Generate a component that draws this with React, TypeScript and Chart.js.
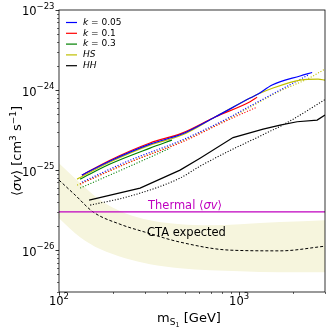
import { useEffect, useRef } from 'react';
import { Chart, registerables } from 'chart.js';
Chart.register(...registerables);

const FONT = "'DejaVu Sans', sans-serif";

// ---- data (mass in GeV, <sigma v> in cm^3 s^-1) ----
const k005Mass = [134, 192, 320, 482, 736, 1151, 1275, 1526, 2182, 2545];
const k005Sigma = [8.66e-26, 1.3e-25, 2.11e-25, 2.82e-25, 4.6e-25, 7.94e-25, 8.91e-25, 1.155e-24, 1.5e-24, 1.655e-24];
const k005DotMass = [134, 248, 482, 891, 1151, 1690, 2417];
const k005DotSigma = [7.08e-26, 1.33e-25, 2.37e-25, 4.6e-25, 6.31e-25, 1.0e-24, 1.54e-24];

const k01Mass = [134, 192, 320, 482, 736, 1151, 1259];
const k01Sigma = [8.66e-26, 1.33e-25, 2.18e-25, 2.9e-25, 4.6e-25, 7.14e-25, 8.11e-25];
const k01DotMass = [131, 248, 482, 891, 1259];
const k01DotSigma = [6.68e-26, 1.26e-25, 2.24e-25, 4.34e-25, 6.13e-25];

const k03Mass = [131, 192, 320, 424];
const k03Sigma = [7.72e-26, 1.19e-25, 1.88e-25, 2.37e-25];
const k03DotMass = [131, 248, 414];
const k03DotSigma = [5.96e-26, 1.12e-25, 1.88e-25];

const hsMass = [126, 192, 320, 482, 736, 1151, 1275, 1545, 2182, 2748, 3000];
const hsSigma = [7.72e-26, 1.26e-25, 2.05e-25, 2.74e-25, 4.6e-25, 7.94e-25, 8.91e-25, 1.06e-24, 1.33e-24, 1.37e-24, 1.33e-24];
const hsDotMass = [126, 248, 482, 891, 1690, 2417, 3000];
const hsDotSigma = [6.49e-26, 1.26e-25, 2.3e-25, 4.47e-25, 9.72e-25, 1.39e-24, 1.83e-24];

const hhMass = [147, 282, 470, 607, 926, 1360, 1690, 2100, 2713, 3000];
const hhSigma = [4.22e-26, 5.96e-26, 1.0e-25, 1.41e-25, 2.55e-25, 3.25e-25, 3.65e-25, 4.02e-25, 4.22e-25, 4.87e-25];
const hhDotMass = [149, 248, 470, 607, 926, 1309, 1871, 3000];
const hhDotSigma = [3.65e-26, 4.73e-26, 7.94e-26, 1.12e-25, 1.83e-25, 2.66e-25, 3.98e-25, 7.6e-25];

const ctaMass = [100, 123, 155, 218, 300, 470, 891, 1690, 3000];
const ctaSigma = [7.5e-26, 4.87e-26, 2.99e-26, 2.11e-26, 1.68e-26, 1.26e-26, 1.0e-26, 9.8e-27, 1.12e-26];

const bandMass = [100, 131, 169, 233, 320, 470, 690, 1013, 1690, 3000];
const bandUpper = [1.22e-25, 6.88e-26, 4.22e-26, 2.9e-26, 2.37e-26, 2.11e-26, 2.05e-26, 2.11e-26, 2.24e-26, 2.37e-26];
const bandLower = [2.51e-26, 1.45e-26, 1.03e-26, 7.94e-27, 6.68e-27, 5.96e-27, 5.62e-27, 5.46e-27, 5.31e-27, 5.31e-27];

const thermalMass = [100, 3000];
const thermalSigma = [3e-26, 3e-26];

const xMin = 100, xMax = 3000, yMin = 3e-27, yMax = 1e-23;
const xMajorTicks = [100, 1000];
const xMajorExp = ['2', '3'];
const yMajorTicks = [1e-26, 1e-25, 1e-24, 1e-23];
const yMajorExp = ['\u221226', '\u221225', '\u221224', '\u221223'];

const legendNames = ['k', 'k', 'k', 'HS', 'HH'];
const legendRest = [' = 0.05', ' = 0.1', ' = 0.3', '', ''];
const legendColors = ['#0000ff', '#ff0000', '#008000', '#bfbf00', '#000000'];

const MAGENTA = '#bf00bf';
const BAND = 'rgb(246,245,221)';

const pts = (xs: number[], ys: number[]) => xs.map((x, i) => ({ x, y: ys[i] }));

function line(xs: number[], ys: number[], color: string, dotted: boolean, extra: any = {}) {
  return {
    data: pts(xs, ys),
    borderColor: color,
    backgroundColor: color,
    borderWidth: dotted ? 1.1 : 1.2,
    borderDash: dotted ? [1.1, 1.7] : [],
    pointRadius: 0,
    fill: false,
    cubicInterpolationMode: 'monotone',
    ...extra,
  };
}

type Run = [string, string, number];
function runsWidth(ctx: CanvasRenderingContext2D, runs: Run[]) {
  let w = 0;
  for (const [t, f] of runs) { ctx.font = f; w += ctx.measureText(t).width; }
  return w;
}
function drawRuns(ctx: CanvasRenderingContext2D, runs: Run[], x: number, y: number) {
  let cx = x;
  for (const [t, f, dy] of runs) { ctx.font = f; ctx.fillText(t, cx, y + dy); cx += ctx.measureText(t).width; }
}

const mplPlugin = {
  id: 'mpl',
  afterDraw(chart: any) {
    const ctx: CanvasRenderingContext2D = chart.ctx;
    const { left, right, top, bottom } = chart.chartArea;
    const xs = chart.scales.x, ys = chart.scales.y;
    ctx.save();
    ctx.strokeStyle = '#000';
    ctx.fillStyle = '#000';
    // ticks
    for (let d = 2; d <= 3; d++) for (let m = 1; m <= 9; m++) {
      const v = m * Math.pow(10, d);
      if (v < xMin || v > xMax) continue;
      const px = Math.round(xs.getPixelForValue(v)) + 0.5;
      const len = m === 1 ? 3.5 : 2;
      ctx.lineWidth = m === 1 ? 0.8 : 0.6;
      ctx.beginPath(); ctx.moveTo(px, bottom); ctx.lineTo(px, bottom + len); ctx.stroke();
    }
    for (let d = -27; d <= -23; d++) for (let m = 1; m <= 9; m++) {
      const v = m * Math.pow(10, d);
      if (v < yMin * 0.999 || v > yMax * 1.001) continue;
      const py = Math.round(ys.getPixelForValue(v)) + 0.5;
      const len = m === 1 ? 3.5 : 2;
      ctx.lineWidth = m === 1 ? 0.8 : 0.6;
      ctx.beginPath(); ctx.moveTo(left, py); ctx.lineTo(left - len, py); ctx.stroke();
    }
    // frame
    ctx.lineWidth = 0.8;
    ctx.strokeRect(left, top, right - left, bottom - top);

    // tick labels
    ctx.textBaseline = 'middle';
    ctx.textAlign = 'left';
    const big = `11.5px ${FONT}`, sup = `8.5px ${FONT}`;
    yMajorTicks.forEach((v, i) => {
      const py = ys.getPixelForValue(v);
      const runs: Run[] = [['10', big, 2.5], [yMajorExp[i], sup, -3]];
      const w = runsWidth(ctx, runs);
      drawRuns(ctx, runs, left - 4.5 - w, py);
    });
    xMajorTicks.forEach((v, i) => {
      const px = xs.getPixelForValue(v);
      const runs: Run[] = [['10', big, 0], [xMajorExp[i], sup, -5]];
      const w = runsWidth(ctx, runs);
      drawRuns(ctx, runs, px - w / 2, bottom + 10);
    });

    // axis titles
    ctx.textBaseline = 'alphabetic';
    const tf = `13px ${FONT}`;
    const xt: Run[] = [['m', tf, 0], ['S', `9px ${FONT}`, 3], ['1', `6.5px ${FONT}`, 5], [' [GeV]', tf, 0]];
    const xtw = runsWidth(ctx, xt);
    drawRuns(ctx, xt, 189 - xtw / 2, 322);

    ctx.save();
    ctx.translate(21, (top + bottom) / 2);
    ctx.rotate(-Math.PI / 2);
    const yt: Run[] = [['\u27e8', tf, 0], ['\u03c3v', `italic ${tf}`, 0], ['\u27e9 [cm', tf, 0], ['3', `9px ${FONT}`, -5], [' s', tf, 0], ['\u22121', `9px ${FONT}`, -5], [']', tf, 0]];
    const ytw = runsWidth(ctx, yt);
    drawRuns(ctx, yt, -ytw / 2, 0);
    ctx.restore();

    // annotations
    const af = `11.5px ${FONT}`;
    ctx.fillStyle = MAGENTA;
    drawRuns(ctx, [['Thermal \u27e8', af, 0], ['\u03c3v', `italic ${af}`, 0], ['\u27e9', af, 0]], xs.getPixelForValue(312), ys.getPixelForValue(3.3e-26));
    ctx.fillStyle = '#000';
    drawRuns(ctx, [['CTA expected', af, 0]], xs.getPixelForValue(308), ys.getPixelForValue(1.5e-26));

    // legend
    const lf = `9px ${FONT}`;
    ctx.textBaseline = 'middle';
    legendNames.forEach((n, i) => {
      const y = top + 12.5 + i * 10.8;
      ctx.strokeStyle = legendColors[i];
      ctx.lineWidth = 1.2;
      ctx.beginPath(); ctx.moveTo(66, y); ctx.lineTo(77, y); ctx.stroke();
      ctx.fillStyle = '#000';
      drawRuns(ctx, [[n, `italic ${lf}`, 0], [legendRest[i], lf, 0]], 83, y);
    });
    ctx.restore();
  },
};

export default function App() {
  const ref = useRef<HTMLCanvasElement>(null);
  useEffect(() => {
    const datasets: any[] = [
      line(k005Mass, k005Sigma, '#0000ff', false),
      line(k01Mass, k01Sigma, '#ff0000', false),
      line(k03Mass, k03Sigma, '#008000', false),
      line(hsMass, hsSigma, '#bfbf00', false),
      line(hhMass, hhSigma, '#000000', false, { cubicInterpolationMode: 'default', tension: 0 }),
      line(k005DotMass, k005DotSigma, '#0000ff', true),
      line(k01DotMass, k01DotSigma, '#ff0000', true),
      line(k03DotMass, k03DotSigma, '#008000', true),
      line(hsDotMass, hsDotSigma, '#bfbf00', true),
      line(hhDotMass, hhDotSigma, '#000000', true),
      line(thermalMass, thermalSigma, MAGENTA, false, { borderWidth: 1.3 }),
      line(ctaMass, ctaSigma, '#000000', false, { borderDash: [3, 2], borderWidth: 1 }),
      { data: pts(bandMass, bandUpper), borderWidth: 0, borderColor: BAND, backgroundColor: BAND, pointRadius: 0, fill: '+1', cubicInterpolationMode: 'monotone' },
      { data: pts(bandMass, bandLower), borderWidth: 0, borderColor: BAND, backgroundColor: BAND, pointRadius: 0, fill: false, cubicInterpolationMode: 'monotone' },
    ];
    const chart = new Chart(ref.current!, {
      type: 'line',
      data: { datasets },
      options: {
        responsive: false,
        maintainAspectRatio: false,
        animation: false,
        devicePixelRatio: 1,
        layout: { padding: { left: 0, top: 10, right: 7, bottom: 0 } },
        plugins: { legend: { display: false }, tooltip: { enabled: false } },
        scales: {
          x: {
            type: 'logarithmic', min: xMin, max: xMax,
            ticks: { display: false }, grid: { display: false }, border: { display: false },
            afterFit: (s: any) => { s.height = 40; },
          },
          y: {
            type: 'logarithmic', min: yMin, max: yMax,
            ticks: { display: false }, grid: { display: false }, border: { display: false },
            afterFit: (s: any) => { s.width = 59; },
          },
        },
      } as any,
      plugins: [mplPlugin],
    });
    return () => chart.destroy();
  }, []);
  return (
    <div style={{ position: 'absolute', left: 0, top: 0, width: 332, height: 332, background: '#fff' }}>
      <canvas ref={ref} width={332} height={332} style={{ display: 'block', width: 332, height: 332 }} />
    </div>
  );
}
